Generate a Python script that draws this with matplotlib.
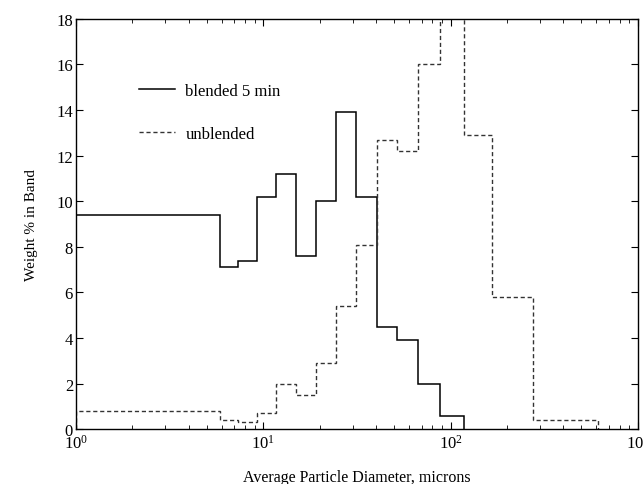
import numpy as np
import matplotlib
matplotlib.use("Agg")
import matplotlib.pyplot as plt

plt.rcParams['font.family'] = ['Liberation Serif', 'DejaVu Serif']
plt.rcParams['mathtext.fontset'] = 'custom'
plt.rcParams['mathtext.rm'] = 'Liberation Serif'
plt.rcParams['mathtext.it'] = 'Liberation Serif:italic'

# band edges (microns)
edges_blended = [1.0, 5.9, 7.3, 9.3, 11.7, 15.0, 19.2, 24.6, 31.3, 40.4, 52.1, 67.3, 88.3, 118]
edges_unblended = edges_blended + [167, 276, 609]

# weight % in each band
blended = [9.4, 7.1, 7.4, 10.2, 11.2, 7.6, 10.0, 13.9, 10.2, 4.5, 3.9, 2.0, 0.6]
unblended = [0.8, 0.4, 0.3, 0.7, 2.0, 1.5, 2.9, 5.4, 8.1, 12.7, 12.2, 16.0, 19.5, 12.9, 5.8, 0.4]

fig = plt.figure(figsize=(6.43, 4.85), dpi=100)
ax = fig.add_axes([0.118, 0.113, 0.874, 0.846])

ax.stairs(blended, edges_blended, baseline=0, color='black', lw=1.1,
          label='blended 5 min')
ax.stairs(unblended, edges_unblended, baseline=0, color='#333333', lw=1.0,
          linestyle=(0, (3, 2)), label='unblended')

ax.set_xscale('log')
ax.set_xlim(1, 1000)
ax.set_ylim(0, 18)
ax.set_yticks(np.arange(0, 19, 2))

ax.tick_params(which='both', direction='in', top=True, right=True, labelsize=12)
ax.tick_params(which='major', length=5)
ax.tick_params(which='minor', length=3)
ax.tick_params(axis='y', pad=2)
ax.tick_params(axis='x', pad=3)
for s in ax.spines.values():
    s.set_linewidth(1.0)

ax.set_xlabel('Average Particle Diameter, microns', fontsize=11.5, labelpad=13)
ax.set_ylabel('Weight % in Band', fontsize=11, labelpad=13)

leg = ax.legend(loc='upper left', bbox_to_anchor=(0.085, 0.88), frameon=False,
                fontsize=12, handlelength=2.2, handletextpad=0.6, labelspacing=1.6)

fig.savefig('out.png', dpi=100)
